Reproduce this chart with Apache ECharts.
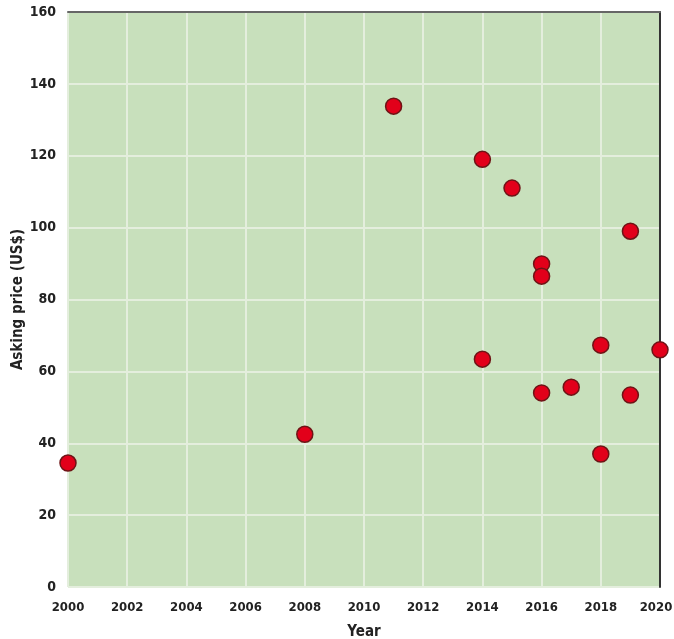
<!DOCTYPE html>
<html>
<head>
<meta charset="utf-8">
<script src="https://cdn.jsdelivr.net/npm/echarts@6/dist/echarts.min.js"></script>
<style>
  html, body { margin: 0; padding: 0; background: #fff; }
  #chart { width: 674px; height: 639px; }
</style>
</head>
<body>
<div id="chart"></div>
<script>
// year of listing and asking price (US$)
const years = [2000, 2008, 2011, 2014, 2014, 2015, 2016, 2016, 2016, 2017, 2018, 2018, 2019, 2019, 2020];
const prices = [34.5, 42.5, 133.8, 119, 63.4, 111, 89.9, 86.5, 54, 55.6, 67.3, 37, 99, 53.4, 66];

const chart = echarts.init(document.getElementById('chart'));
const fontFam = '"DejaVu Sans Condensed", sans-serif';
const labelFont = { fontFamily: fontFam, fontWeight: 'bold', fontSize: 13, color: '#222' };
const nameFont = { fontFamily: fontFam, fontWeight: 'bold', fontSize: 15, color: '#222' };

const option = {
  animation: false,
  grid: {
    left: 68, right: 14, top: 12, bottom: 52, outerBoundsMode: 'none',
    show: true, backgroundColor: '#c8e0bc', borderWidth: 0
  },
  xAxis: [{
    type: 'value', min: 2000, max: 2020, interval: 2,
    name: 'Year', nameLocation: 'middle', nameGap: 38, nameMoveOverlap: false, nameTextStyle: nameFont,
    axisLine: { show: false }, axisTick: { show: false },
    axisLabel: Object.assign({
      margin: 14,
      // last label sits at the right edge: nudge it inward so it is not clipped
      formatter: v => v === 2020 ? '{edge|' + v + '}' : String(v),
      rich: { edge: Object.assign({ padding: [0, 8, 0, 0] }, labelFont) }
    }, labelFont),
    splitLine: { lineStyle: { color: '#e4eedd', width: 2 } }
  }, {
    type: 'value', position: 'top', min: 2000, max: 2020,
    axisLine: { show: true, onZero: false, lineStyle: { color: '#666', width: 2 } },
    axisTick: { show: false }, axisLabel: { show: false }, splitLine: { show: false }
  }],
  yAxis: [{
    type: 'value', min: 0, max: 160, interval: 20,
    name: 'Asking price (US$)', nameLocation: 'middle', nameGap: 42, nameMoveOverlap: false, nameTextStyle: nameFont,
    axisLine: { show: false }, axisTick: { show: false },
    axisLabel: Object.assign({ margin: 12 }, labelFont, { fontSize: 14 }),
    splitLine: { lineStyle: { color: '#e4eedd', width: 2 } }
  }, {
    type: 'value', position: 'right', min: 0, max: 160,
    axisLine: { show: true, onZero: false, lineStyle: { color: '#333', width: 2 } },
    axisTick: { show: false }, axisLabel: { show: false }, splitLine: { show: false }
  }],
  series: [{
    type: 'scatter',
    data: years.map((y, i) => [y, prices[i]]),
    symbolSize: 16,
    itemStyle: { color: '#e2001a', borderColor: '#6e1416', borderWidth: 1.5, opacity: 1 }
  }]
};

chart.setOption(option);
</script>
</body>
</html>
